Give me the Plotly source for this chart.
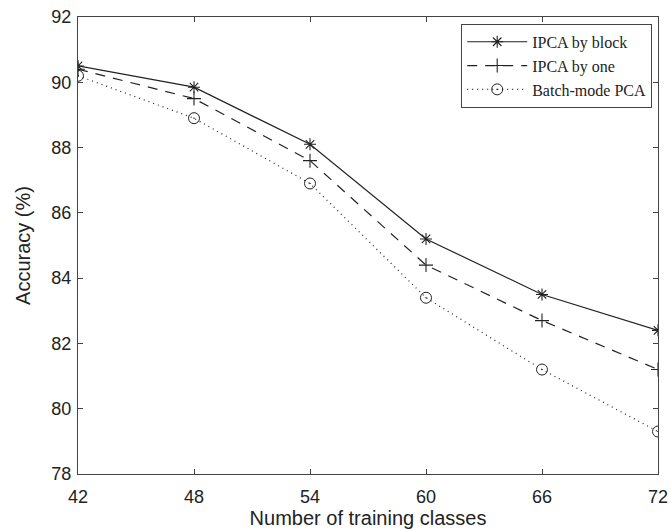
import plotly.graph_objects as go

classes = [42, 48, 54, 60, 66, 72]
ipca_block = [90.5, 89.85, 88.1, 85.2, 83.5, 82.4]
ipca_one = [90.4, 89.5, 87.6, 84.4, 82.7, 81.2]
batch_pca = [90.2, 88.9, 86.9, 83.4, 81.2, 79.3]
x_ticks = [42, 48, 54, 60, 66, 72]
y_ticks = [78, 80, 82, 84, 86, 88, 90, 92]

fig = go.Figure()
fig.add_trace(go.Scatter(x=classes, y=ipca_block, mode="lines+markers", name="IPCA by block",
                         line=dict(color="#222", width=1.2, dash="solid"),
                         marker=dict(symbol="asterisk-open", size=10, color="#222", line=dict(width=1.1, color="#222"))))
fig.add_trace(go.Scatter(x=classes, y=ipca_one, mode="lines+markers", name="IPCA by one",
                         line=dict(color="#222", width=1.2, dash="10px,8px"),
                         marker=dict(symbol="cross-thin-open", size=10, color="#222", line=dict(width=1.1, color="#222"))))
fig.add_trace(go.Scatter(x=classes, y=batch_pca, mode="lines+markers", name="Batch-mode PCA",
                         line=dict(color="#222", width=1.2, dash="1px,4px"),
                         marker=dict(symbol="circle-open-dot", size=11, color="#222", line=dict(width=1, color="#222"))))

axis_common = dict(showgrid=False, zeroline=False, ticks="inside", ticklen=5, tickcolor="#444",
                   showline=True, linecolor="#444", linewidth=1, mirror="allticks", automargin=False,
                   tickfont=dict(family="Liberation Sans, Arial", size=18, color="#222"))
fig.update_xaxes(range=[42, 72], tickvals=x_ticks, ticklabelstandoff=6,
                 title=dict(text="Number of training classes", font=dict(family="Liberation Sans, Arial", size=20, color="#222")),
                 **axis_common)
fig.update_yaxes(range=[78, 92], tickvals=y_ticks, ticklabelstandoff=2,
                 title=dict(text="Accuracy (%)", font=dict(family="Liberation Sans, Arial", size=20, color="#222")),
                 **axis_common)

fig.update_layout(
    width=671, height=529,
    margin=dict(l=78, r=13, t=17, b=55),
    plot_bgcolor="white", paper_bgcolor="white",
    showlegend=True,
    legend=dict(x=0.99, y=0.985, xanchor="right", yanchor="top",
                bgcolor="white", bordercolor="#444", borderwidth=1,
                font=dict(family="Liberation Serif, Times New Roman", size=16, color="#222"),
                tracegroupgap=0, itemwidth=60),
)
fig.write_html("out.html")
